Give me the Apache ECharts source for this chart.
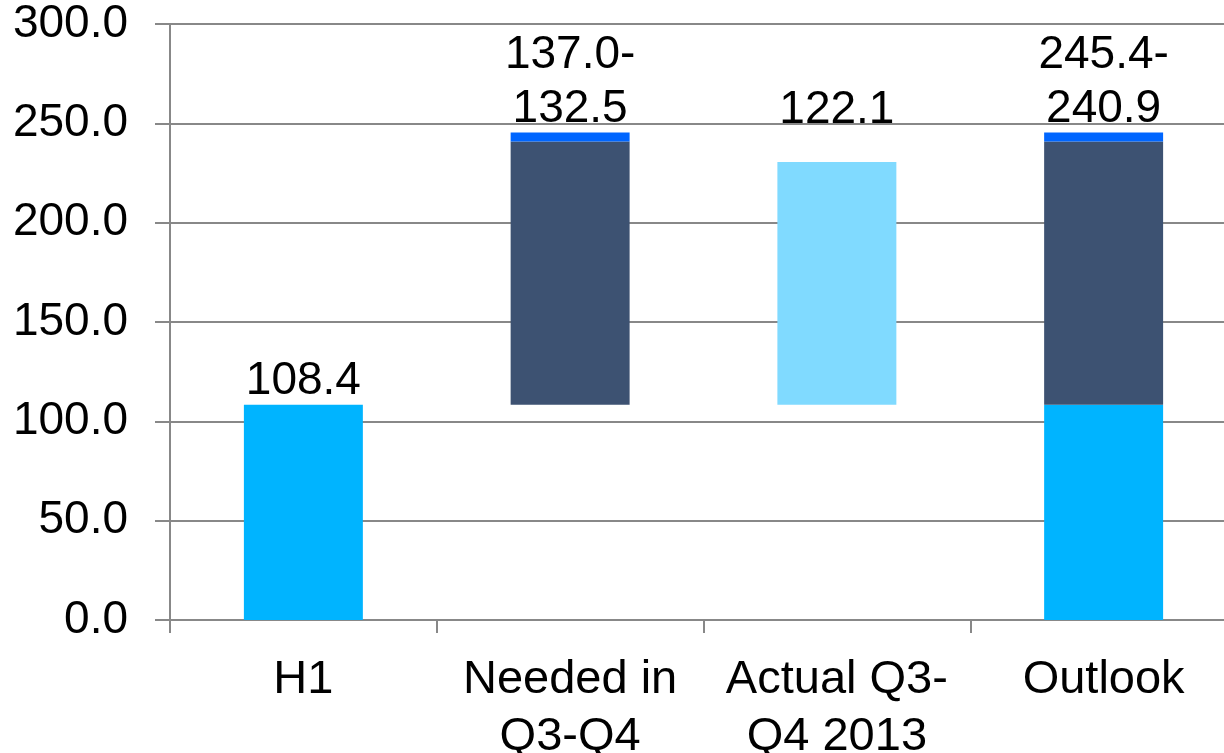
<!DOCTYPE html>
<html>
<head>
<meta charset="utf-8">
<script src="https://cdn.jsdelivr.net/npm/echarts@6/dist/echarts.min.js"></script>
<style>html,body{margin:0;padding:0;background:#fff}#c{width:1224px;height:753px}</style>
</head>
<body>
<div id="c"></div>
<script>
var categories = ['H1', 'Needed in\nQ3-Q4', 'Actual Q3-\nQ4 2013', 'Outlook'];
var baseValues = [0, 108.4, 108.4, 0];
var h1Values = [108.4, null, null, 108.4];
var neededValues = [null, 132.5, null, 132.5];
var rangeValues = [null, 4.5, null, 4.5];
var actualValues = [null, null, 122.1, null];
var barLabels = ['108.4', '137.0-\n132.5', '122.1', '245.4-\n240.9'];
var yTicks = [0, 50, 100, 150, 200, 250, 300];

var FONT = 'Liberation Sans, Arial, sans-serif';
var labelStyle = { show: true, position: 'top', distance: -4, color: '#000', fontSize: 46, fontFamily: FONT, lineHeight: 54 };

function build(values, labelIdx, extra) {
  return values.map(function (v, i) {
    var d = { value: v == null ? '-' : v };
    if (labelIdx.indexOf(i) >= 0) {
      d.label = Object.assign({}, labelStyle, { formatter: barLabels[i] }, extra || {});
    }
    return d;
  });
}

var chart = echarts.init(document.getElementById('c'));
chart.setOption({
  animation: false,
  grid: { left: 170, width: 1067, top: 24, bottom: 133, containLabel: false, outerBoundsMode: 'none' },
  xAxis: {
    type: 'category',
    data: categories,
    axisLine: { lineStyle: { color: '#888', width: 2 } },
    axisTick: { show: true, length: 13, lineStyle: { color: '#888', width: 2 } },
    axisLabel: { color: '#000', fontSize: 47, fontFamily: FONT, lineHeight: 57, margin: 32, interval: 0 }
  },
  yAxis: {
    type: 'value',
    min: 0, max: 300, interval: 50,
    axisLine: { show: true, lineStyle: { color: '#888', width: 2 } },
    axisTick: { show: true, length: 15, lineStyle: { color: '#888', width: 2 } },
    splitLine: { show: true, lineStyle: { color: '#888', width: 2 } },
    axisLabel: { color: '#000', fontSize: 46, fontFamily: FONT, margin: 42,
      formatter: function (v) { return v.toFixed(1); } }
  },
  series: [
    { type: 'bar', stack: 'a', barWidth: '44.6%', itemStyle: { color: 'transparent' }, data: build(baseValues, []), silent: true },
    { type: 'bar', stack: 'a', itemStyle: { color: '#00B4FF' }, data: build(h1Values, [0]) },
    { type: 'bar', stack: 'a', itemStyle: { color: '#3D5272' }, data: build(neededValues, []) },
    { type: 'bar', stack: 'a', itemStyle: { color: '#0066FF' }, data: build(rangeValues, [1, 3]) },
    { type: 'bar', stack: 'a', itemStyle: { color: '#80DAFF' }, data: build(actualValues, [2], { offset: [0, -29] }) }
  ]
});
</script>
</body>
</html>
